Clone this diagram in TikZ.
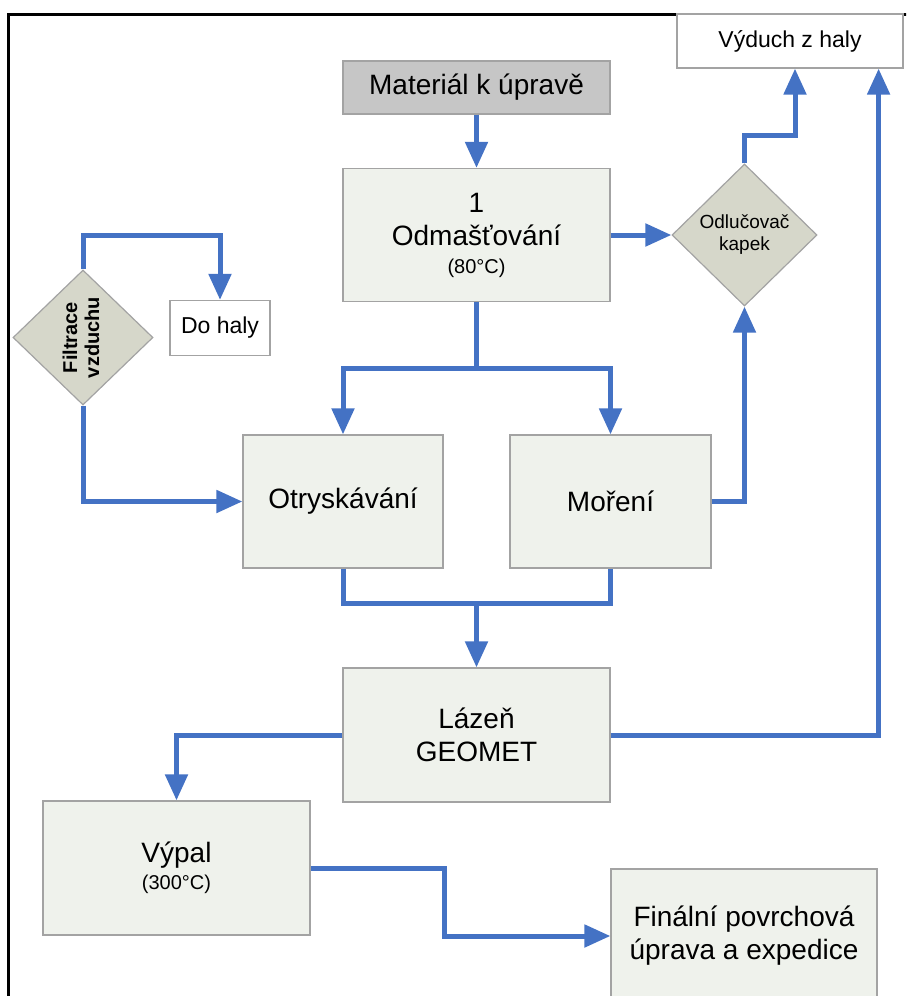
\documentclass[tikz,border=0pt]{standalone}
\usepackage{fontspec}
\setmainfont{Liberation Sans}
\usetikzlibrary{shapes.geometric,arrows.meta,patterns,calc}
\definecolor{boxfill}{HTML}{EFF2EC}
\definecolor{boxline}{HTML}{A3A3A3}
\definecolor{dfill}{HTML}{D6D7CA}
\definecolor{flow}{HTML}{4472C4}
\definecolor{matfill}{HTML}{C6C6C6}
\definecolor{matgrid}{HTML}{9E9E9E}
\tikzset{
  proc/.style={draw=boxline, fill=boxfill, line width=1.2pt, inner sep=0pt, align=center,
               font=\fontsize{28}{33}\selectfont},
  plain/.style={draw=boxline, fill=white, line width=1.2pt, inner sep=0pt, align=center,
               font=\fontsize{23}{27}\selectfont},
  decide/.style={shape=diamond, draw=boxline, fill=dfill, line width=1.2pt, inner sep=0pt,
               align=center},
  flowline/.style={draw=flow, line width=5pt},
  flowarrow/.style={flowline, -{Triangle[length=26pt,width=22pt]}},
}
\begin{document}
\begin{tikzpicture}[x=1pt,y=-1pt]
\useasboundingbox (0,0) rectangle (906,996);
\clip (0,0) rectangle (906,996);
% frame
\draw[line width=3pt] (8,1000) -- (8,14) -- (910,14);

% nodes
\node[proc, minimum width=267pt, minimum height=53pt,
      preaction={fill=matfill}, pattern=grid, pattern color=matgrid, fill=none]
      (mat) at (476.5,87.5) {Materiál k úpravě};
\node[plain, minimum width=226pt, minimum height=54pt] (vyd) at (790,41) {Výduch z haly};
\node[proc, minimum width=267pt, minimum height=133pt] (odm) at (476.5,235)
      {1\\Odmašťování\\[-5pt]{\fontsize{20}{24}\selectfont (80°C)}};
\node[decide, minimum width=145pt, minimum height=142pt,
      font=\fontsize{19}{22}\selectfont] (odl) at (744.5,235) {Odlučovač\\kapek};
\node[decide, minimum width=140pt, minimum height=135pt,
      font=\bfseries\fontsize{20}{25}\selectfont] (fil) at (83,337.5)
      {\rotatebox{90}{\begin{tabular}{@{}c@{}}Filtrace\\[-3pt]vzduchu\end{tabular}}};
\node[plain, minimum width=100pt, minimum height=55pt] (doh) at (220,328) {Do haly};
\node[proc, minimum width=200pt, minimum height=133pt] (otr) at (343,501.5) {Otryskávání};
\node[proc, minimum width=201pt, minimum height=133pt] (mor) at (610.5,501.5) {Moření};
\node[proc, minimum width=267pt, minimum height=134pt] (laz) at (476.5,735) {Lázeň\\GEOMET};
\node[proc, minimum width=267pt, minimum height=134pt] (vyp) at (176.5,868)
      {Výpal\\[-6pt]{\fontsize{20}{24}\selectfont (300°C)}};
\node[proc, minimum width=266pt, minimum height=134pt] (fin) at (744,936)
      {Finální povrchová\\úprava a expedice};

% junction points
\coordinate (j1) at (795,135);
\coordinate (j2) at (476.5,368);
\coordinate (j3) at (83,235);
\coordinate (j4) at (476.5,603);
\coordinate (j6) at (444,868);

% connectors
\draw[flowarrow] (mat.south) -- (odm.north);
\draw[flowarrow] (odm.east) -- (odl.west);
\draw[flowarrow] (odl.north) |- (j1) -- (j1 |- vyd.south);
\draw[flowline] (odm.south) -- (j2);
\draw[flowarrow] (j2) -| (otr.north);
\draw[flowarrow] (j2) -| (mor.north);
\draw[flowarrow] (mor.east) -| (odl.south);
\draw[flowarrow] (fil.north) -- (j3) -| (doh.north);
\draw[flowarrow] (fil.south) |- (otr.west);
\draw[flowline] (otr.south) |- (j4) -| (mor.south);
\draw[flowarrow] (j4) -- (laz.north);
\draw[flowarrow] (laz.west) -| (vyp.north);
\draw[flowarrow] (laz.east) -| ($(vyd.south east)+(-25,0)$);
\draw[flowarrow] (vyp.east) -- (j6) |- (fin.west);
\end{tikzpicture}
\end{document}
